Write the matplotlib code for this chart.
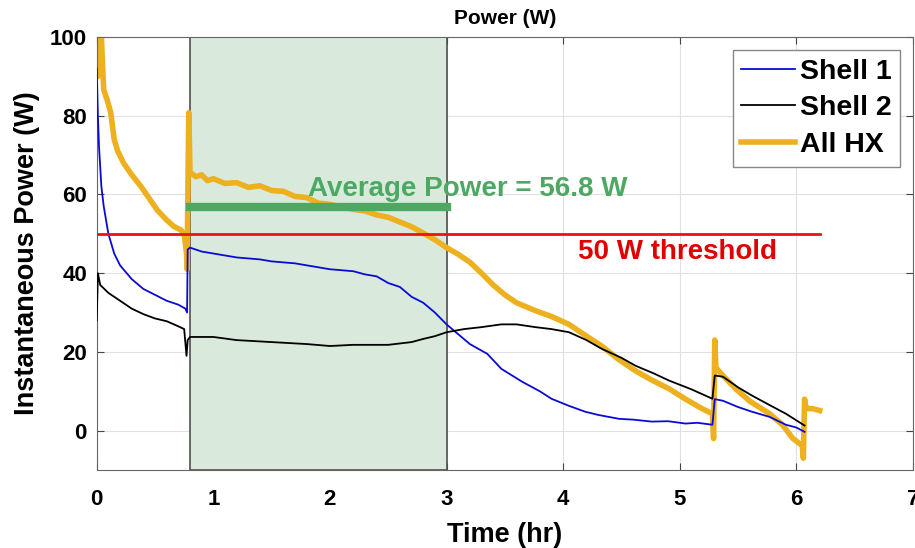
import matplotlib.pyplot as plt
from matplotlib.patches import Rectangle

plt.rcParams['font.family'] = ['Liberation Sans', 'DejaVu Sans']
plt.rcParams['font.weight'] = 'bold'

# Shell 1 (blue)
shell1_t = [0.0, 0.005, 0.01, 0.02, 0.04, 0.06, 0.1, 0.15, 0.2, 0.3, 0.4, 0.5, 0.6, 0.7, 0.76, 0.775,
            0.78, 0.8, 0.9, 1.0, 1.2, 1.4, 1.5, 1.7, 1.9, 2.0, 2.2, 2.3, 2.4, 2.5, 2.6, 2.7, 2.8, 2.9,
            3.0, 3.1, 3.2, 3.35, 3.47, 3.65, 3.8, 3.9, 4.05, 4.19, 4.3, 4.48, 4.6, 4.76, 4.9, 5.05,
            5.15, 5.28, 5.3, 5.37, 5.5, 5.62, 5.77, 5.91, 6.0, 6.07]
shell1_p = [92, 86, 80, 72, 62, 57, 50, 45, 42, 38.5, 36, 34.5, 33, 32, 31, 30,
            46, 46.5, 45.5, 45, 44, 43.5, 43, 42.5, 41.5, 41, 40.5, 39.7, 39.2, 37.5, 36.5, 34, 32.5, 30,
            27, 24.5, 22, 19.5, 15.7, 12.4, 10, 8.1, 6.3, 4.8, 4, 3, 2.8, 2.3, 2.4, 1.8,
            2, 1.5, 8, 7.6, 6, 4.8, 3.5, 1.5, 0.8, -0.3]

# Shell 2 (black)
shell2_t = [0.0, 0.01, 0.03, 0.1, 0.2, 0.3, 0.4, 0.5, 0.6, 0.7, 0.75, 0.77, 0.78, 0.8, 1.0, 1.2,
            1.5, 1.8, 2.0, 2.2, 2.5, 2.7, 2.8, 2.9, 3.0, 3.15, 3.3, 3.47, 3.6, 3.76, 3.9, 4.05,
            4.2, 4.33, 4.5, 4.62, 4.78, 4.91, 5.1, 5.28, 5.3, 5.37, 5.5, 5.62, 5.77, 5.91, 6.07]
shell2_p = [28, 40, 37, 35, 33, 31, 29.6, 28.5, 27.8, 26.5, 25.8, 19, 23, 23.8, 23.8, 23,
            22.5, 22, 21.5, 21.8, 21.8, 22.5, 23.3, 24, 25, 25.8, 26.3, 27, 27, 26.3, 25.8, 25,
            23, 20.8, 18.5, 16.5, 14.5, 12.7, 10.5, 8.1, 14, 13.7, 11, 8.9, 6.5, 4.3, 1.3]

# All HX (gold)
allhx_t = [0.0, 0.01, 0.02, 0.03, 0.04, 0.05, 0.06, 0.09, 0.12, 0.15, 0.18, 0.23, 0.3, 0.38, 0.45,
           0.52, 0.6, 0.66, 0.72, 0.75, 0.77, 0.775, 0.785, 0.79, 0.8, 0.85, 0.9, 0.95, 1.0, 1.1,
           1.2, 1.3, 1.4, 1.5, 1.6, 1.7, 1.8, 1.9, 2.0, 2.1, 2.2, 2.3, 2.4, 2.5, 2.6, 2.7, 2.8,
           2.9, 3.0, 3.1, 3.2, 3.3, 3.4, 3.5, 3.6, 3.76, 3.9, 4.05, 4.2, 4.33, 4.48, 4.62, 4.75,
           4.91, 5.05, 5.19, 5.28, 5.29, 5.3, 5.31, 5.37, 5.48, 5.6, 5.77, 5.88, 5.97, 6.05, 6.06,
           6.07, 6.08, 6.1, 6.14, 6.2]
allhx_p = [100, 90, 100, 92, 100, 93, 86.6, 84, 80.8, 74, 71, 68, 65, 62, 59,
           56, 53.5, 51.9, 51, 50, 45, 41, 70, 80.8, 65.6, 64.5, 65, 63.5, 64, 62.8,
           63, 61.8, 62.2, 61, 60.8, 59.5, 59.2, 57.8, 57.5, 56.8, 56.2, 55.8, 54.8, 54.2, 53, 51.8, 50.2,
           48.5, 46.5, 44.8, 42.8, 40, 37, 34.5, 32.5, 30.5, 29, 27, 24, 21.5, 18, 15.2, 13,
           10.6, 8, 5.6, 4.3, -2, 23, 16, 14, 10.6, 7.5, 4.3, 1.5, -2, -3.8, -7,
           8, 6, 5.6, 5.6, 5.1]

avg_power = 56.8
threshold = 50
window = (0.8, 3.0)

fig = plt.figure(figsize=(9.15, 5.48), dpi=100)
ax = fig.add_axes([0.1057, 0.1423, 0.8921, 0.7902])

ax.add_patch(Rectangle((window[0], -10), window[1] - window[0], 110,
                       facecolor='#d9eadc', edgecolor='#505050', lw=1.2, zorder=1))

ax.plot(shell1_t, shell1_p, color='#0a0ad8', lw=1.3, label='Shell 1', zorder=3)
ax.plot(shell2_t, shell2_p, color='black', lw=1.3, label='Shell 2', zorder=3)
ax.plot(allhx_t, allhx_p, color='#edb120', lw=4, label='All HX', zorder=2)

ax.plot([window[0], window[1]], [avg_power, avg_power], color='#4ca862', lw=6, zorder=4)
ax.plot([0, 6.2], [threshold, threshold], color='#ee1111', lw=2, zorder=4)

ax.text(1.81, 59.5, 'Average Power = 56.8 W', color='#4ca862', fontsize=20,
        fontweight='bold', ha='left', va='baseline', zorder=5)
ax.text(4.13, 43.5, '50 W threshold', color='#e00000', fontsize=20,
        fontweight='bold', ha='left', va='baseline', zorder=5)

ax.set_xlim(0, 7)
ax.set_ylim(-10, 100)
ax.set_xticks(range(0, 8))
ax.set_yticks([0, 20, 40, 60, 80, 100])
ax.grid(True, color='#e0e0e0', lw=0.8)
ax.set_axisbelow(True)
ax.tick_params(direction='in', labelsize=16, length=5, color='#444444', top=True, right=True)
ax.tick_params(axis='x', pad=14)
ax.tick_params(axis='y', pad=7)
for lab in ax.get_xticklabels() + ax.get_yticklabels():
    lab.set_fontweight('bold')
for sp in ax.spines.values():
    sp.set_color('#666666')

ax.set_title('Power (W)', fontsize=15, fontweight='bold', pad=9)
ax.set_xlabel('Time (hr)', fontsize=19.5, fontweight='bold', labelpad=8)
ax.set_ylabel('Instantaneous Power (W)', fontsize=19.5, fontweight='bold', labelpad=7)

leg = ax.legend(loc='upper right', bbox_to_anchor=(900 / 915, 1 - 50 / 548),
                bbox_transform=fig.transFigure, borderaxespad=0,
                prop={'weight': 'bold', 'size': 20.5},
                handlelength=1.9, handletextpad=0.15, labelspacing=0.38,
                fancybox=False, framealpha=1, edgecolor='#888888', borderpad=0.3)

fig.savefig('out.png', dpi=100)
